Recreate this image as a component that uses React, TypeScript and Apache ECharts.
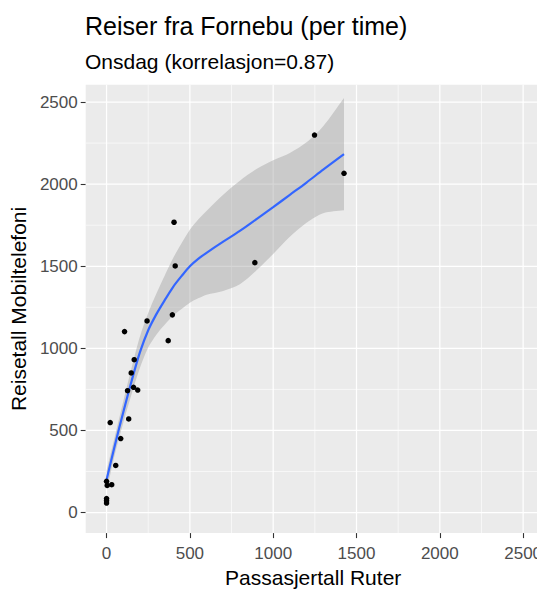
import React, { useEffect, useRef } from "react";
import * as echarts from "echarts";

const titleText = "Reiser fra Fornebu (per time)";
const subtitleText = "Onsdag (korrelasjon=0.87)";
const xName = "Passasjertall Ruter";
const yName = "Reisetall Mobiltelefoni";

// observed points: [Passasjertall Ruter, Reisetall Mobiltelefoni]
const ruter = [0, 4, 31, 0, 0, 0, 55, 85, 22, 133, 126, 162, 187, 148, 166, 108, 243, 370, 395, 405, 412, 890, 1248, 1425];
const mobil = [190, 165, 170, 85, 72, 58, 287, 451, 548, 570, 742, 763, 746, 850, 931, 1102, 1167, 1047, 1204, 1768, 1502, 1522, 2299, 2066];

// loess fit and its confidence band
const fitX = [0, 50, 100, 150, 200, 250, 300, 350, 400, 450, 500, 550, 600, 700, 800, 900, 1000, 1100, 1200, 1300, 1425];
const fitY = [200, 410, 610, 800, 975, 1110, 1210, 1295, 1375, 1440, 1500, 1545, 1582, 1650, 1715, 1787, 1860, 1935, 2010, 2088, 2183];
const bandUpper = [255, 465, 675, 880, 1070, 1215, 1335, 1445, 1550, 1640, 1722, 1785, 1837, 1935, 2020, 2092, 2145, 2190, 2255, 2353, 2525];
const bandLower = [145, 355, 545, 720, 880, 1005, 1085, 1145, 1200, 1240, 1278, 1305, 1327, 1350, 1390, 1475, 1575, 1680, 1765, 1823, 1841];

const majorBreaks = [0, 500, 1000, 1500, 2000, 2500];
const minorBreaks = [250, 750, 1250, 1750, 2250];
const axisMin = -125;
const axisMax = 2605;

const FONT = "'Liberation Sans', Arial, Helvetica, sans-serif";

function gridSeries(breaks: number[], width: number) {
  return {
    type: "custom",
    z: 1,
    silent: true,
    clip: false,
    data: breaks.map((b) => [b, b]),
    encode: { x: 0, y: 1 },
    renderItem: (params: any, api: any) => {
      const v = api.value(0);
      const vx0 = api.coord([v, axisMin]);
      const vx1 = api.coord([v, axisMax]);
      const hy0 = api.coord([axisMin, v]);
      const hy1 = api.coord([axisMax, v]);
      const style = { stroke: "#FFFFFF", lineWidth: width, fill: "none" };
      return {
        type: "group",
        children: [
          { type: "line", shape: { x1: vx0[0], y1: vx0[1], x2: vx1[0], y2: vx1[1] }, style },
          { type: "line", shape: { x1: hy0[0], y1: hy0[1], x2: hy1[0], y2: hy1[1] }, style },
        ],
      };
    },
  };
}

export default function App() {
  const ref = useRef<HTMLDivElement>(null);

  useEffect(() => {
    if (!ref.current) return;
    const chart = echarts.init(ref.current, null, { renderer: "svg" });

    const axisCommon = (name: string, gap: number, margin: number) => ({
      type: "value",
      min: axisMin,
      max: axisMax,
      name,
      nameLocation: "middle",
      nameGap: gap,
      nameTextStyle: { fontSize: 21, color: "#000000", fontFamily: FONT },
      axisLine: { show: false, onZero: false },
      axisTick: {
        show: true,
        length: 5,
        customValues: majorBreaks,
        lineStyle: { color: "#333333", width: 1.1 },
      },
      axisLabel: {
        show: true,
        customValues: majorBreaks,
        margin,
        fontSize: 17,
        color: "#4D4D4D",
        fontFamily: FONT,
        formatter: (v: number) => String(v),
      },
      splitLine: { show: false },
      minorTick: { show: false },
      minorSplitLine: { show: false },
    });

    const option: any = {
      animation: false,
      backgroundColor: "#ffffff",
      textStyle: { fontFamily: FONT },
      title: [
        {
          text: titleText,
          left: 85,
          top: 13,
          padding: 0,
          textStyle: { fontSize: 25, fontWeight: "normal", color: "#000000", fontFamily: FONT },
        },
        {
          text: subtitleText,
          left: 85,
          top: 51,
          padding: 0,
          textStyle: { fontSize: 21, fontWeight: "normal", color: "#000000", fontFamily: FONT },
        },
      ],
      grid: {
        left: 84.5,
        top: 84.8,
        width: 460.5,
        height: 459.5,
        show: false,
      },
      xAxis: axisCommon(xName, 29, 12),
      yAxis: axisCommon(yName, 52, 8),
      series: [
        {
          name: "panel",
          type: "custom",
          z: 0,
          silent: true,
          clip: false,
          data: [[axisMin, axisMin]],
          encode: { x: 0, y: 1 },
          renderItem: (params: any, api: any) => {
            const a = api.coord([axisMin, axisMax]);
            const b = api.coord([axisMax, axisMin]);
            return {
              type: "rect",
              shape: { x: a[0], y: a[1], width: b[0] - a[0], height: b[1] - a[1] },
              style: { fill: "#EBEBEB", stroke: "none" },
            };
          },
        },
        gridSeries(minorBreaks, 0.6),
        gridSeries(majorBreaks, 1.25),
        {
          name: "band",
          type: "custom",
          z: 2,
          silent: true,
          clip: true,
          data: fitX.map((x, i) => [x, bandLower[i], bandUpper[i]]),
          encode: { x: 0, y: [1, 2] },
          renderItem: (params: any, api: any) => {
            if (params.dataIndex !== 0) return null;
            const n = fitX.length;
            const up = fitX.map((x, i) => api.coord([x, bandUpper[i]]));
            const lo = fitX.map((x, i) => api.coord([x, bandLower[i]]));
            const pts: number[][] = [];
            pts.push(up[0]);
            for (let i = 0; i < n; i++) pts.push(up[i]);
            pts.push(up[n - 1]);
            pts.push(lo[n - 1]);
            for (let i = n - 1; i >= 0; i--) pts.push(lo[i]);
            return {
              type: "polygon",
              shape: { points: pts, smooth: 0.3 },
              style: { fill: "rgba(153,153,153,0.4)", stroke: "none" },
            };
          },
        },
        {
          name: "fit",
          type: "line",
          z: 3,
          silent: true,
          smooth: 0.3,
          showSymbol: false,
          symbol: "none",
          data: fitX.map((x, i) => [x, fitY[i]]),
          lineStyle: { color: "#3366FF", width: 2.2 },
        },
        {
          name: "points",
          type: "scatter",
          z: 4,
          silent: true,
          symbol: "circle",
          symbolSize: 5.5,
          data: ruter.map((x, i) => [x, mobil[i]]),
          itemStyle: { color: "#000000", opacity: 1 },
        },
      ],
    };

    chart.setOption(option);
    return () => chart.dispose();
  }, []);

  return <div ref={ref} style={{ width: 545, height: 593, marginLeft: -8, marginTop: -8 }} />;
}
